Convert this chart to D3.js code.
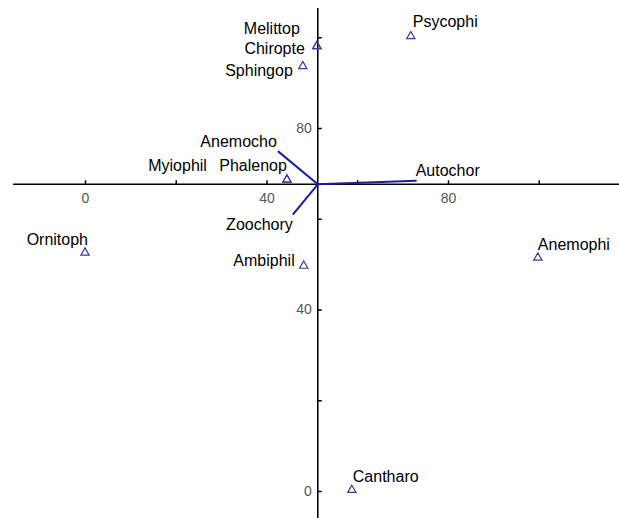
<!DOCTYPE html>
<html>
<head>
<meta charset="utf-8">
<script src="https://cdn.jsdelivr.net/npm/d3@7"></script>
<style>
  body { margin: 0; background: #fff; }
  text { font-family: Arial, "Liberation Sans", sans-serif; }
</style>
</head>
<body>
<div class="d3"></div>
<script>
// species scores (triangles)
let species = ['Psycophi', 'Melittop', 'Chiropte', 'Sphingop', 'Phalenop', 'Myiophil', 'Ornitoph', 'Anemophi', 'Ambiphil', 'Cantharo'];
let speciesX = [71.8, 51.1, 51.1, 48.0, 44.5, 44.5, 0.0, 99.8, 48.2, 58.8];
let speciesY = [100.0, 97.8, 97.8, 93.4, 68.4, 68.4, 52.3, 51.2, 49.4, 0.0];

// environmental vectors
let vectors = ['Anemocho', 'Zoochory', 'Autochor'];
let vectorX = [42.5, 45.8, 73.1];
let vectorY = [74.9, 60.9, 68.4];

// where the axes cross
let originX = 51.3;
let originY = 67.6;

let xTicks = [0, 20, 40, 60, 80, 100];
let yTicks = [0, 20, 40, 60, 80, 100];
let tickLabels = [0, 40, 80];

// label placement (anchor, dx, dy relative to the point)
let labelPos = {
  Psycophi: ['start', 2, -10],
  Melittop: ['end', -17, -13],
  Chiropte: ['end', -12, 7],
  Sphingop: ['end', -10, 9],
  Phalenop: ['end', 0, -10],
  Myiophil: ['end', -80, -10],
  Ornitoph: ['end', 3, -9],
  Anemophi: ['start', 0, -9],
  Ambiphil: ['end', -9, -1],
  Cantharo: ['start', 1, -9],
  Anemocho: ['end', -1, -4],
  Zoochory: ['end', 0, 15],
  Autochor: ['start', -1, -5]
};

let width = 619;
let height = 518;

let svg = d3.select('.d3')
  .append('svg')
  .attr('width', width)
  .attr('height', height);

let x = d3.scaleLinear().domain([0, 80]).range([85, 448]);
let y = d3.scaleLinear().domain([0, 80]).range([491, 128]);

let ox = x(originX);
let oy = y(originY);

// x axis
svg.append('line')
  .attr('x1', 13).attr('x2', width)
  .attr('y1', oy).attr('y2', oy)
  .attr('stroke', '#000').attr('stroke-width', 1.6);

let xAxis = svg.append('g')
  .attr('transform', `translate(0,${oy})`)
  .call(d3.axisBottom(x)
    .tickValues(xTicks)
    .tickSize(-4)
    .tickPadding(9)
    .tickFormat(d => tickLabels.includes(d) ? d : ''));

// y axis
svg.append('line')
  .attr('x1', ox).attr('x2', ox)
  .attr('y1', 8).attr('y2', height)
  .attr('stroke', '#000').attr('stroke-width', 1.6);

let yAxis = svg.append('g')
  .attr('transform', `translate(${ox},0)`)
  .call(d3.axisLeft(y)
    .tickValues(yTicks)
    .tickSize(-4)
    .tickPadding(6)
    .tickFormat(d => tickLabels.includes(d) ? d : ''));

[xAxis, yAxis].forEach(a => {
  a.select('.domain').remove();
  a.selectAll('.tick line').attr('stroke', '#000').attr('stroke-width', 1.5);
  a.selectAll('.tick text')
    .attr('fill', '#555')
    .style('font-size', '14px')
    .style('font-family', 'Arial, "Liberation Sans", sans-serif');
});

// vectors
let vecData = vectors.map((name, i) => ({ name: name, x: vectorX[i], y: vectorY[i] }));

svg.append('g')
  .selectAll('line')
  .data(vecData)
  .enter()
  .append('line')
  .attr('x1', ox).attr('y1', oy)
  .attr('x2', d => x(d.x)).attr('y2', d => y(d.y))
  .attr('stroke', '#1c1ca0')
  .attr('stroke-width', 2);

// triangles
let spData = species.map((name, i) => ({ name: name, x: speciesX[i], y: speciesY[i] }));

svg.append('g')
  .selectAll('path')
  .data(spData)
  .enter()
  .append('path')
  .attr('d', d3.symbol().type(d3.symbolTriangle).size(30))
  .attr('transform', d => `translate(${x(d.x)},${y(d.y) - 1})`)
  .attr('fill', 'none')
  .attr('stroke', '#3a3aa0')
  .attr('stroke-width', 1.2);

// labels
let labels = spData.concat(vecData);

svg.append('g')
  .selectAll('text')
  .data(labels)
  .enter()
  .append('text')
  .attr('x', d => x(d.x) + labelPos[d.name][1])
  .attr('y', d => y(d.y) + labelPos[d.name][2])
  .attr('text-anchor', d => labelPos[d.name][0])
  .style('font-size', '16px')
  .attr('fill', '#000')
  .text(d => d.name);
</script>
</body>
</html>
